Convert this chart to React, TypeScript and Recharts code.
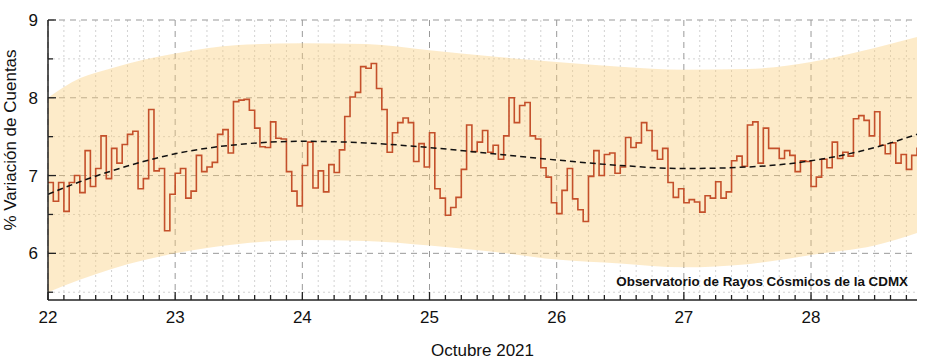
import { ComposedChart, Line, Area, XAxis, YAxis, CartesianGrid } from 'recharts'

// % variación horaria, 22 oct 00h -> 28 oct 20h
const variacion = [
  6.91, 6.67, 6.91, 6.54, 6.91, 7.0, 6.78, 7.32, 6.86, 7.09, 7.51, 6.96,
  7.35, 7.16, 7.4, 7.53, 7.57, 6.83, 6.96, 7.85, 7.06, 7.09, 6.29, 6.76,
  7.03, 7.09, 6.71, 6.8, 7.26, 7.05, 7.11, 7.17, 7.53, 7.59, 7.29, 7.95,
  7.97, 7.98, 7.84, 7.61, 7.37, 7.36, 7.69, 7.48, 7.47, 7.05, 6.8, 6.61,
  7.13, 7.43, 6.84, 7.06, 6.79, 7.14, 7.04, 7.33, 7.76, 8.01, 8.07, 8.4,
  8.38, 8.44, 8.12, 7.85, 7.3, 7.55, 7.68, 7.74, 7.68, 7.18, 7.41, 7.11,
  7.55, 6.83, 6.71, 6.49, 6.59, 6.72, 7.08, 7.65, 7.31, 7.43, 7.58, 7.3,
  7.39, 7.21, 7.51, 8.0, 7.68, 7.9, 7.94, 7.51, 7.47, 7.1, 6.98, 6.65,
  6.51, 6.81, 7.09, 6.7, 6.56, 6.41, 6.99, 7.32, 7.0, 7.27, 7.29, 7.03,
  7.11, 7.49, 7.36, 7.42, 7.68, 7.58, 7.32, 7.21, 7.35, 6.91, 6.72, 6.83,
  6.65, 6.69, 6.66, 6.53, 6.74, 6.71, 6.92, 6.71, 6.79, 7.19, 7.25, 7.12,
  7.65, 7.69, 7.16, 7.61, 7.35, 7.35, 7.22, 7.32, 7.26, 7.05, 7.19, 7.18,
  6.86, 6.98, 7.21, 7.1, 7.43, 7.22, 7.3, 7.25, 7.73, 7.77, 7.71, 7.51,
  7.82, 7.39, 7.28, 7.42, 7.16, 7.27, 7.08, 7.26, 7.36,
]

const diasBanda = [22, 22.25, 22.5, 22.75, 23, 23.5, 24, 24.5, 25, 25.5, 26, 26.5, 27, 27.5, 28, 28.5, 28.8333]
const bandaSuperior = [8.0, 8.25, 8.38, 8.49, 8.57, 8.68, 8.7, 8.69, 8.61, 8.53, 8.46, 8.4, 8.36, 8.37, 8.46, 8.64, 8.78]
const bandaInferior = [5.5, 5.66, 5.8, 5.91, 6.0, 6.12, 6.17, 6.16, 6.1, 6.02, 5.92, 5.87, 5.82, 5.86, 5.98, 6.1, 6.26]
const tendencia = [6.76, 6.92, 7.06, 7.18, 7.28, 7.4, 7.44, 7.42, 7.36, 7.28, 7.2, 7.13, 7.09, 7.11, 7.19, 7.36, 7.53]

const diasEtiqueta = [22, 23, 24, 25, 26, 27, 28]
const valoresY = [6, 7, 8, 9]
const ticksY = [5.5, 6, 6.5, 7, 7.5, 8, 8.5, 9]
const ticksYMenores = [5.5, 6.5, 7.5, 8.5]

const X_MIN = 22
const X_MAX = 22 + (variacion.length - 1) / 24

const serieHoraria = variacion.map((v, i) => ({ x: X_MIN + i / 24, v }))
const serieBanda = diasBanda.map((x, i) => ({
  x,
  rango: [bandaInferior[i], bandaSuperior[i]],
  t: tendencia[i],
}))

// marcas cada 3 horas
const ticksX = Array.from({ length: 55 }, (_, k) => X_MIN + k * 0.125)
const ticksXMenores = ticksX.filter((v) => !Number.isInteger(v))

const FONT = '"Liberation Sans", Arial, sans-serif'
const EJE = '#222'

function TickAbajo({ x, y, payload }: any) {
  const mayor = Number.isInteger(payload.value)
  return (
    <g>
      <line x1={x} x2={x} y1={y} y2={y - (mayor ? 8 : 5)} stroke={EJE} strokeWidth={1.3} />
      {mayor && (
        <text x={x} y={y + 23} textAnchor="middle" fontSize={17} fontFamily={FONT} fill="#111">
          {payload.value}
        </text>
      )}
    </g>
  )
}

function TickArriba({ x, y, payload }: any) {
  const mayor = Number.isInteger(payload.value)
  return <line x1={x} x2={x} y1={y} y2={y + (mayor ? 8 : 5)} stroke={EJE} strokeWidth={1.3} />
}

function TickIzq({ x, y, payload }: any) {
  const mayor = Number.isInteger(payload.value)
  return (
    <g>
      <line x1={x} x2={x + (mayor ? 8 : 5)} y1={y} y2={y} stroke={EJE} strokeWidth={1.3} />
      {mayor && (
        <text x={x - 10} y={y + 6} textAnchor="end" fontSize={17} fontFamily={FONT} fill="#111">
          {payload.value}
        </text>
      )}
    </g>
  )
}

function TickDer({ x, y, payload }: any) {
  const mayor = Number.isInteger(payload.value)
  return <line x1={x} x2={x - (mayor ? 8 : 5)} y1={y} y2={y} stroke={EJE} strokeWidth={1.3} />
}

function TextosInferiores({ viewBox }: any) {
  return (
    <g fontFamily={FONT} fill="#111">
      <text x={viewBox.x + viewBox.width / 2} y={viewBox.y + 56} textAnchor="middle" fontSize={17}>
        Octubre 2021
      </text>
      <text
        x={viewBox.x + viewBox.width - 9}
        y={viewBox.y - 14}
        textAnchor="end"
        fontSize={13.4}
        fontWeight="bold"
      >
        Observatorio de Rayos Cósmicos de la CDMX
      </text>
    </g>
  )
}

export default function App() {
  return (
    <div style={{ position: 'absolute', left: 0, top: 0, background: '#fff' }}>
      <ComposedChart width={929} height={361} margin={{ top: 20, right: 12, bottom: 0, left: 0 }}>
        <CartesianGrid
          verticalValues={ticksXMenores}
          horizontalValues={ticksYMenores}
          stroke="#d2d2d2"
          strokeDasharray="2 3"
        />
        <CartesianGrid
          verticalValues={diasEtiqueta}
          horizontalValues={valoresY}
          stroke="#999"
          strokeDasharray="6 5"
        />
        <Area
          data={serieBanda}
          dataKey="rango"
          type="monotone"
          stroke="none"
          fill="rgb(250,205,120)"
          fillOpacity={0.4}
          isAnimationActive={false}
        />
        <Line
          data={serieHoraria}
          dataKey="v"
          type="stepAfter"
          stroke="#c4502b"
          strokeWidth={1.6}
          dot={false}
          isAnimationActive={false}
        />
        <Line
          data={serieBanda}
          dataKey="t"
          type="monotone"
          stroke="#111"
          strokeWidth={1.5}
          strokeDasharray="6 4"
          dot={false}
          isAnimationActive={false}
        />
        <XAxis
          dataKey="x"
          type="number"
          domain={[X_MIN, X_MAX]}
          allowDataOverflow
          ticks={ticksX}
          interval={0}
          tickSize={0}
          tickMargin={0}
          tick={<TickAbajo />}
          height={61}
          axisLine={{ stroke: EJE, strokeWidth: 1.5 }}
          label={{ content: (p: any) => <TextosInferiores viewBox={p.viewBox} /> }}
        />
        <XAxis
          xAxisId="top"
          orientation="top"
          dataKey="x"
          type="number"
          domain={[X_MIN, X_MAX]}
          allowDataOverflow
          ticks={ticksX}
          interval={0}
          tickSize={0}
          tickMargin={0}
          tick={<TickArriba />}
          height={0}
          axisLine={{ stroke: EJE, strokeWidth: 1.5 }}
        />
        <YAxis
          type="number"
          domain={[5.4, 9]}
          allowDataOverflow
          ticks={ticksY}
          interval={0}
          tickSize={0}
          tickMargin={0}
          tick={<TickIzq />}
          width={48}
          axisLine={{ stroke: EJE, strokeWidth: 1.5 }}
          label={{
            content: ({ viewBox }: any) => (
              <text
                x={16}
                y={viewBox.y + 120}
                transform={`rotate(-90 16 ${viewBox.y + 120})`}
                textAnchor="middle"
                fontSize={17}
                fontFamily={FONT}
                fill="#111"
              >
                % Variación de Cuentas
              </text>
            ),
          }}
        />
        <YAxis
          yAxisId="right"
          orientation="right"
          type="number"
          domain={[5.4, 9]}
          allowDataOverflow
          ticks={ticksY}
          interval={0}
          tickSize={0}
          tickMargin={0}
          tick={<TickDer />}
          width={0}
          axisLine={{ stroke: EJE, strokeWidth: 1.5 }}
        />
      </ComposedChart>
    </div>
  )
}
